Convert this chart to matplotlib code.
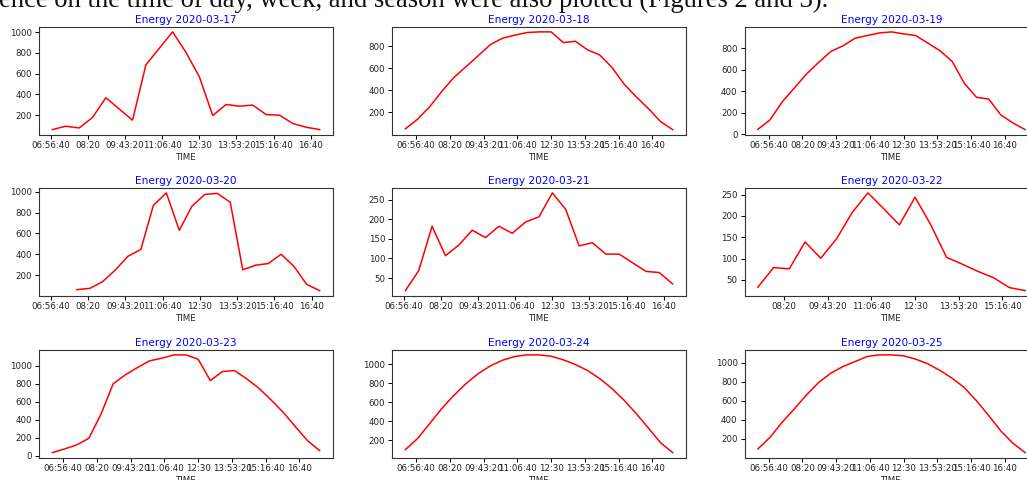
import numpy as np
import matplotlib
matplotlib.use("Agg")
import matplotlib.pyplot as plt
from matplotlib.ticker import FuncFormatter, MultipleLocator

# Reading times used by the different days
TIMES_0630_1730 = ["06:30", "07:00", "07:30", "08:00", "08:30", "09:00", "09:30", "10:00",
                   "10:30", "11:00", "11:30", "12:00", "12:30", "13:00", "13:30", "14:00",
                   "14:30", "15:00", "15:30", "16:00", "16:30", "17:00", "17:30"]
TIMES_0700_1700 = ["07:00", "07:30", "08:00", "08:30", "09:00", "09:30", "10:00", "10:30",
                   "11:00", "11:30", "12:00", "12:30", "13:00", "13:30", "14:00", "14:30",
                   "15:00", "15:30", "16:00", "16:30", "17:00"]
TIMES_0730_1600 = ["07:30", "08:00", "08:30", "09:00", "09:30", "10:00", "10:30", "11:00",
                   "11:30", "12:00", "12:30", "13:00", "13:30", "14:00", "14:30", "15:00",
                   "15:30", "16:00"]
# 2020-03-20 was logged on a shorter interval, 07:00 reading missing
TIMES_0320 = ["07:00", "07:55", "08:24", "08:52", "09:21", "09:49", "10:18", "10:46",
              "11:15", "11:44", "12:12", "12:41", "13:09", "13:38", "14:06", "14:35",
              "15:03", "15:32", "16:01", "16:29", "16:58"]

DAYS = ["2020-03-17", "2020-03-18", "2020-03-19",
        "2020-03-20", "2020-03-21", "2020-03-22",
        "2020-03-23", "2020-03-24", "2020-03-25"]

energy_0317 = [61, 94, 77, 177, 368, 260, 152, 685, 845, 1003, 805, 570, 197, 303, 287,
               297, 206, 200, 119, 84, 61]
energy_0318 = [52, 139, 252, 391, 518, 615, 715, 815, 873, 900, 924, 930, 930, 833, 845,
               767, 721, 609, 458, 342, 236, 118, 45]
energy_0319 = [46, 133, 300, 429, 559, 667, 769, 821, 892, 917, 941, 951, 932, 917, 846,
               775, 676, 472, 343, 327, 179, 105, 43]
energy_0320 = [np.nan, 59, 72, 134, 249, 380, 446, 870, 990, 630, 860, 975, 985,
               900, 250, 295, 310, 400, 280, 110, 50]
energy_0321 = [18, 69, 182, 107, 134, 172, 153, 182, 164, 193, 206, 267, 225, 132, 140,
               111, 111, 89, 67, 64, 35]
energy_0322 = [33, 79, 76, 139, 101, 146, 208, 254, 217, 179, 244, 179, 103, 87, 70, 55,
               32, 25]
energy_0323 = [37, 78, 122, 196, 463, 800, 900, 981, 1056, 1085, 1122, 1122, 1074, 837,
               937, 948, 856, 752, 622, 485, 326, 170, 59]
energy_0324 = [101, 218, 376, 535, 675, 799, 904, 985, 1045, 1084, 1101, 1101, 1087, 1049,
               999, 936, 851, 746, 623, 482, 330, 175, 70]
energy_0325 = [95, 217, 375, 515, 662, 791, 889, 959, 1011, 1064, 1081, 1081, 1071, 1036,
               987, 917, 836, 738, 599, 445, 284, 155, 57]

panels = [
    (DAYS[0], TIMES_0700_1700, energy_0317),
    (DAYS[1], TIMES_0630_1730, energy_0318),
    (DAYS[2], TIMES_0630_1730, energy_0319),
    (DAYS[3], TIMES_0320, energy_0320),
    (DAYS[4], TIMES_0700_1700, energy_0321),
    (DAYS[5], TIMES_0730_1600, energy_0322),
    (DAYS[6], TIMES_0630_1730, energy_0323),
    (DAYS[7], TIMES_0630_1730, energy_0324),
    (DAYS[8], TIMES_0630_1730, energy_0325),
]


def clock_seconds(stamps):
    """Convert 'HH:MM' strings to seconds after midnight."""
    out = []
    for s in stamps:
        h, m = s.split(":")
        out.append(int(h) * 3600 + int(m) * 60)
    return np.array(out, dtype=float)


def time_label(x, pos=None):
    s = int(round(x))
    h, rem = divmod(s, 3600)
    m, sec = divmod(rem, 60)
    h %= 24
    if sec:
        return f"{h:02d}:{m:02d}:{sec:02d}"
    return f"{h:02d}:{m:02d}"


W, H = 1027, 480
fig = plt.figure(figsize=(W / 100, H / 100), dpi=100)

fig.text(-1 / W, 1 - 7 / H,
         "ence on the time of day, week, and season were also plotted (Figures 2 and 3).",
         family="Liberation Serif", fontsize=19.2, va="baseline", ha="left", color="#111111")

col_left = [39, 392, 744.5]
row_top = [27, 188, 350]
ax_w, ax_h = 294, 107.5

for i, (day, times, energy) in enumerate(panels):
    r, c = divmod(i, 3)
    ax = fig.add_axes([col_left[c] / W, 1 - (row_top[r] + ax_h) / H, ax_w / W, ax_h / H])
    t = clock_seconds(times)
    y = np.array(energy, dtype=float)
    ax.plot(t, y, color="red", lw=1.1)

    span = t.max() - t.min()
    ax.set_xlim(t.min() - 0.05 * span, t.max() + 0.05 * span)
    ax.xaxis.set_major_locator(MultipleLocator(5000))
    ax.xaxis.set_major_formatter(FuncFormatter(time_label))
    ax.yaxis.set_major_locator(MultipleLocator(50 if np.nanmax(y) < 400 else 200))

    ax.set_title(f"Energy {day}", color="blue", fontsize=7.6, pad=3)
    ax.set_xlabel("TIME", fontsize=6.2, labelpad=1.5, color="#222222")
    ax.tick_params(labelsize=6.2, length=3, width=0.7, pad=2, labelcolor="#222222")
    for sp in ax.spines.values():
        sp.set_linewidth(0.8)
        sp.set_color("#333333")

fig.savefig("out.png", dpi=100)
